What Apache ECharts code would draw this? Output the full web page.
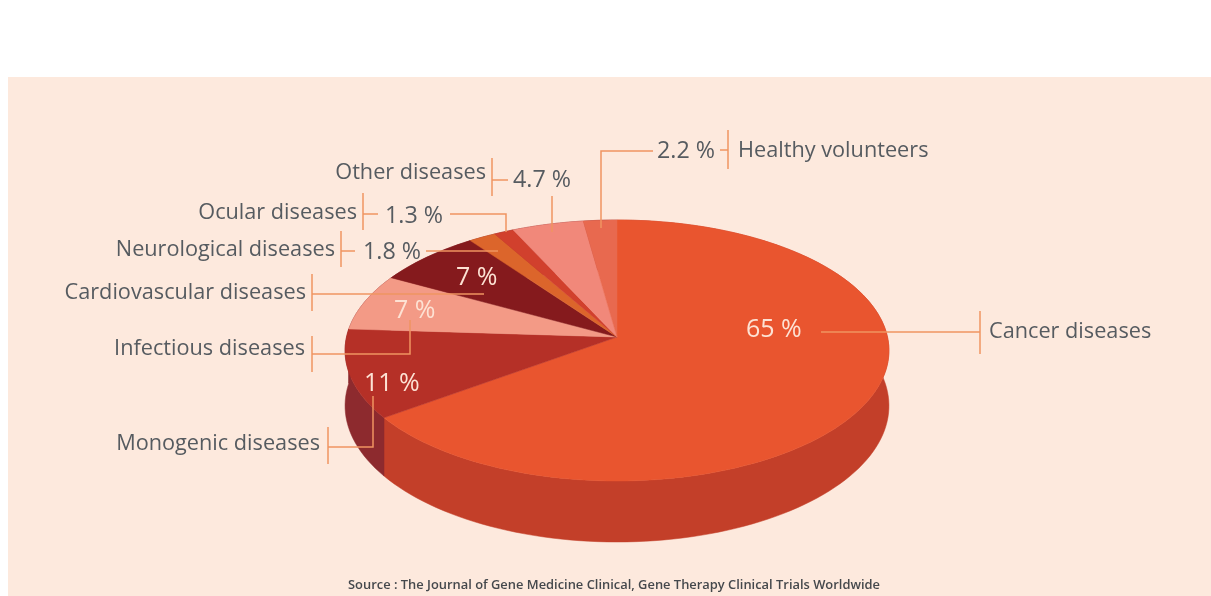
<!DOCTYPE html>
<html>
<head>
<meta charset="utf-8">
<style>
  html, body { margin: 0; padding: 0; background: #fff; }
  #chart { width: 1211px; height: 596px; }
</style>
<script src="https://cdn.jsdelivr.net/npm/echarts@6/dist/echarts.min.js"></script>
</head>
<body>
<div id="chart"></div>
<script>
// read clockwise from 12 o'clock
const categories = ['Cancer diseases', 'Monogenic diseases', 'Infectious diseases', 'Cardiovascular diseases',
  'Neurological diseases', 'Ocular diseases', 'Other diseases', 'Healthy volunteers'];
const values = [65, 11, 7, 7, 1.8, 1.3, 4.7, 2.2];
const sourceText = 'Source : The Journal of Gene Medicine Clinical, Gene Therapy Clinical Trials Worldwide';

const topColors = ['#e9552f', '#b53027', '#f39a86', '#851a1d', '#dc652b', '#d1402d', '#f1887a', '#e8694f'];
const wallColors = ['#c33f29', '#8d2a2e', '#8d2a2e', '#8d2a2e', '#8d2a2e', '#8d2a2e', '#8d2a2e', '#8d2a2e'];

// pie is a tilted disc in perspective, the apex sits above the middle of the ellipse
const APEX = [617, 337];
const RX = 270.5, RY = 129.1, PERSP = 0.1034, DEPTH = 54.7;

function rimPoint(pct, drop) {
  const a = pct / 100 * Math.PI * 2;
  const u = Math.sin(a), v = -Math.cos(a);
  const d = 1 - PERSP * v;
  return [APEX[0] + RX * u / d, APEX[1] + RY * v / d + (drop ? DEPTH / d : 0)];
}

let acc = 0;
const sliceData = values.map((v, i) => {
  const row = [acc, acc + v, i];
  acc += v;
  return row;
});

function rimPoints(start, end, drop) {
  const pts = [];
  const n = Math.max(2, Math.ceil((end - start) * 2));
  for (let k = 0; k <= n; k++) pts.push(rimPoint(start + (end - start) * k / n, drop));
  return pts;
}

function renderTop(params, api) {
  const i = api.value(2);
  const pts = [APEX].concat(rimPoints(api.value(0), api.value(1), false));
  return {
    type: 'polygon',
    shape: { points: pts.map((p) => api.coord(p)) },
    style: { fill: topColors[i], stroke: topColors[i], lineWidth: 0.5 }
  };
}

function renderWall(params, api) {
  const i = api.value(2);
  const s = api.value(0), e = api.value(1);
  const pts = rimPoints(s, e, false).concat(rimPoints(s, e, true).reverse());
  return {
    type: 'polygon',
    shape: { points: pts.map((p) => api.coord(p)) },
    style: { fill: wallColors[i], stroke: wallColors[i], lineWidth: 0.5 }
  };
}

const LINE = '#ef9461';
const leaders = [
  [[821, 332], [980, 332]], [[980, 311], [980, 354]],
  [[373, 396], [373, 447], [328, 447]], [[328, 427], [328, 464]],
  [[410, 320], [410, 354], [312, 354]], [[312, 336], [312, 372]],
  [[484, 294], [312, 294]], [[312, 274], [312, 311]],
  [[498, 251], [426, 251]], [[355, 251], [341, 251]], [[341, 231], [341, 267]],
  [[506, 232], [506, 214], [450, 214]], [[378, 214], [363, 214]], [[363, 193], [363, 230]],
  [[552, 196], [552, 232]], [[508, 180], [492, 180]], [[492, 158], [492, 196]],
  [[601, 228], [601, 151], [653, 151]], [[720, 150], [728, 150]], [[728, 130], [728, 169]]
];

// name label [x, middle y, align], value label [x, y], inside = light number on the pie
const nameAnchors = [
  [989, 332, 'left'], [320, 444, 'right'], [305, 349, 'right'], [306, 293, 'right'],
  [335, 250, 'right'], [357, 213, 'right'], [486, 173, 'right'], [738, 151, 'left']
];
const valueAnchors = [[746, 330], [364, 384], [394, 311], [456, 278], [363, 252], [385, 216], [513, 180], [657, 151]];
const insideValue = [true, true, true, true, false, false, false, false];

const FONT = '"Open Sans", "Noto Sans", sans-serif';
const graphics = [
  { type: 'rect', z: -1, shape: { x: 8, y: 77, width: 1203, height: 519 }, style: { fill: '#fde9dd' } }
];
leaders.forEach((pts) => {
  graphics.push({ type: 'polyline', z: 20, shape: { points: pts }, style: { fill: 'none', stroke: LINE, lineWidth: 1.5 } });
});
categories.forEach((name, i) => {
  graphics.push({
    type: 'text', z: 30, x: nameAnchors[i][0], y: nameAnchors[i][1],
    style: { text: name, fill: '#565b60', font: '21.7px ' + FONT, textAlign: nameAnchors[i][2], textVerticalAlign: 'middle' }
  });
  graphics.push({
    type: 'text', z: 30, x: valueAnchors[i][0], y: valueAnchors[i][1],
    style: {
      text: values[i] + ' %',
      fill: insideValue[i] ? '#fde2d4' : '#565b60',
      font: (insideValue[i] ? '25px ' : '23.3px ') + FONT,
      textAlign: 'left', textVerticalAlign: 'middle'
    }
  });
});
graphics.push({
  type: 'text', z: 30, x: 614, y: 585,
  style: { text: sourceText, fill: '#45484c', font: '600 12.9px ' + FONT, textAlign: 'center', textVerticalAlign: 'middle' }
});

const chart = echarts.init(document.getElementById('chart'));
chart.setOption({
  animation: false,
  backgroundColor: '#ffffff',
  grid: { left: 0, right: 0, top: 0, bottom: 0 },
  xAxis: { type: 'value', min: 0, max: 1211, show: false },
  yAxis: { type: 'value', min: 0, max: 596, inverse: true, show: false },
  tooltip: { show: false },
  graphic: { elements: graphics },
  series: [
    { type: 'custom', name: 'walls', z: 2, silent: true, renderItem: renderWall, data: sliceData },
    { type: 'custom', name: 'slices', z: 3, silent: true, renderItem: renderTop, data: sliceData }
  ]
});
</script>
</body>
</html>
